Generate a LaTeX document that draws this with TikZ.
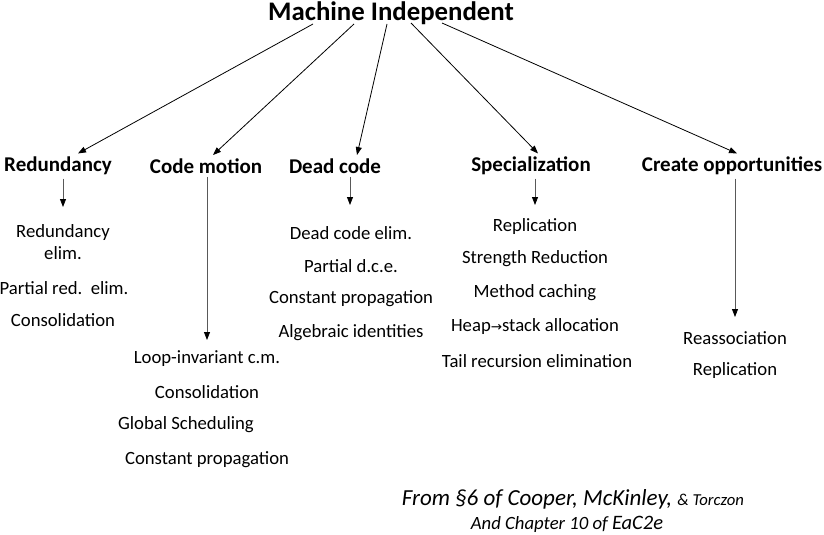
\documentclass[tikz,border=0pt]{standalone}
\usepackage{fontspec}
\setmainfont{Carlito}
\newfontfamily\symfont{DejaVu Sans}
\usetikzlibrary{arrows.meta, positioning}

\begin{document}
\begin{tikzpicture}[x=1pt, y=-1pt,
        head/.style={font=\fontsize{21}{24}\selectfont\bfseries},
        item/.style={font=\fontsize{18.7}{21.5}\selectfont, align=center, inner sep=0pt},
        arr/.style={-{Triangle[length=8pt, width=6pt, color=black]}, line width=0.8pt},
        varr/.style={arr, draw=black!65}]
    \useasboundingbox (0,0) rectangle (824,535);
    \node[font=\fontsize{26.8}{30}\selectfont\bfseries] (top) at (391,13) {Machine Independent};
    \node[head] (red) at (58,166) {Redundancy};
    \node[head] (mot) at (206,166) {Code motion};
    \node[head] (dead) at (335,166) {Dead code};
    \node[head] (spec) at (531,166) {Specialization};
    \node[head] (opp) at (732,166) {Create opportunities};

    % from the title down to the five groups
    \coordinate (t1) at (313,24);
    \coordinate (t2) at (354,24);
    \coordinate (t3) at (387,24);
    \coordinate (t4) at (411,23);
    \coordinate (t5) at (442,23);
    \draw [arr] (t1) -- ([xshift=20]red.north);
    \draw [arr] (t2) -- ([xshift=7]mot.north);
    \draw [arr] (t3) -- ([xshift=22]dead.north);
    \draw [arr] (t4) -- ([xshift=7]spec.north);
    \draw [arr] (t5) -- ([xshift=5]opp.north);

    % short drops into each list
    \coordinate (redend) at (63,207);
    \coordinate (motend) at (207,340);
    \coordinate (deadend) at (350,205);
    \coordinate (specend) at (535,205);
    \coordinate (oppend) at (735,317);
    \draw [varr] (red.south -| redend) -- (redend);
    \draw [varr] (mot.south -| motend) -- (motend);
    \draw [varr] (dead.south -| deadend) -- (deadend);
    \draw [varr] (spec.south -| specend) -- (specend);
    \draw [varr] (opp.south -| oppend) -- (oppend);

    \node[item] (red1) at (63,242) {Redundancy\\elim.};
    \node[item] (red2) at (64,288) {Partial red.\ \ elim.};
    \node[item] (red3) at (63,320) {Consolidation};

    \node[item] (mot1) at (207,359) {Loop-invariant c.m.};
    \node[item] (mot2) at (207,392) {Consolidation};
    \node[item] (mot3) at (186,425) {Global Scheduling};
    \node[item] (mot4) at (207,460) {Constant propagation};

    \node[item] (dead1) at (351,233) {Dead code elim.};
    \node[item] (dead2) at (351,266) {Partial d.c.e.};
    \node[item] (dead3) at (351,299) {Constant propagation};
    \node[item] (dead4) at (351,333) {Algebraic identities};

    \node[item] (spec1) at (535,227) {Replication};
    \node[item] (spec2) at (535,259) {Strength Reduction};
    \node[item] (spec3) at (535,293) {Method caching};
    \node[item] (spec4) at (535,327) {Heap{\symfont\fontsize{13.5}{15}\selectfont →}stack allocation};
    \node[item] (spec5) at (537,361) {Tail recursion elimination};

    \node[item] (opp1) at (735,338) {Reassociation};
    \node[item] (opp2) at (735,371) {Replication};

    \node[font=\fontsize{23}{26}\selectfont\itshape, inner sep=0pt] (src1) at (573,499)
        {From §6 of Cooper, McKinley, {\fontsize{16.7}{19}\selectfont\& Torczon}};
    \node[font=\fontsize{18.7}{22}\selectfont\itshape, inner sep=0pt] (src2) at (567,524)
        {And Chapter 10 of {\fontsize{20.5}{22}\selectfont EaC2e}};
\end{tikzpicture}
\end{document}
